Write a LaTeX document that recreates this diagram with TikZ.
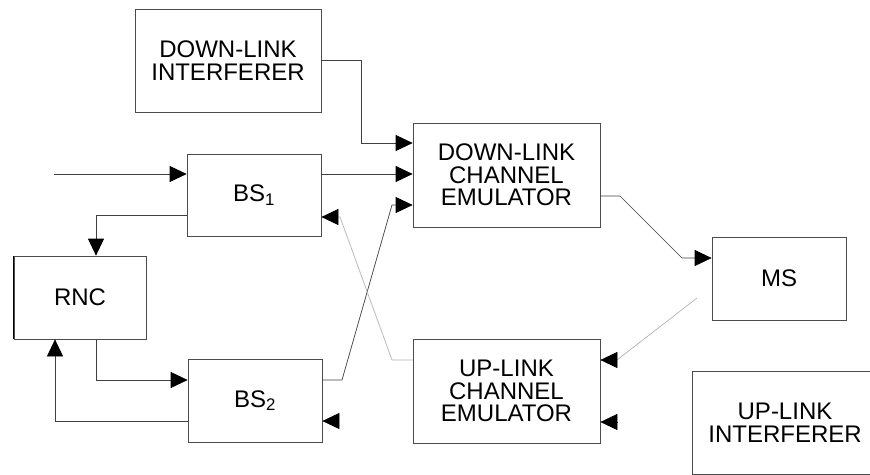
\documentclass[tikz,border=0pt]{standalone}
\usepackage{fontspec}
\setmainfont{Liberation Sans}
\usetikzlibrary{arrows.meta}

\begin{document}
\begin{tikzpicture}[x=1pt,y=-1pt,
  blk/.style={draw=black!70,line width=0.7pt,inner sep=0pt,align=center,
    font=\fontsize{24}{22.5}\selectfont},
  link/.style={draw=black!75,line width=0.7pt,
    -{Triangle[length=17pt,width=16pt,color=black]}},
  faint/.style={link,draw=black!30}]
\useasboundingbox (0,0) rectangle (870,474);
\clip (0,0) rectangle (870,474);

% blocks
\node[blk,minimum width=186pt,minimum height=103pt] (dli)  at (228,60.5)  {DOWN-LINK\\INTERFERER};
\node[blk,minimum width=187pt,minimum height=104pt] (dlce) at (506.5,175) {DOWN-LINK\\CHANNEL\\EMULATOR};
\node[blk,minimum width=134pt,minimum height=82pt]  (bs1)  at (254,195)   {BS\textsubscript{1}};
\node[blk,minimum width=132pt,minimum height=83pt]  (rnc)  at (80,297.5)  {RNC};
\node[blk,minimum width=134pt,minimum height=83pt]  (bs2)  at (255,400.5) {BS\textsubscript{2}};
\node[blk,minimum width=187pt,minimum height=104pt] (ulce) at (506.5,391) {UP-LINK\\CHANNEL\\EMULATOR};
\node[blk,minimum width=134pt,minimum height=83pt]  (ms)   at (779,278.5) {MS};
\node[blk,minimum width=186pt,minimum height=103pt] (uli)  at (785,422.5) {UP-LINK\\INTERFERER};
\draw[line width=1.3pt] (rnc.north west) -- (rnc.south west);

% free ends
\coordinate (src)   at (54,174);
\coordinate (msout) at (697,298);
\coordinate (ulin)  at (617,422);
\coordinate (bsin)  at (338,421);

% connectors
\draw[link] (dli.east) -| (361,143) -- (dlce.west |- 0,143);
\draw[link] (src) -- (bs1.west |- src);
\draw[link] (bs1.east |- src) -- (dlce.west |- src);
\draw[link] (bs2.east |- 0,380) -- (342,380) -- (392,205) -- (dlce.west |- 0,205);
\draw[faint] (ulce.west |- 0,360) -- (392,360) -- (340,217) -- (bs1.east |- 0,217);
\draw[link] (bs1.west |- 0,215) -| (rnc.north -| 96,0);
\draw[link] (rnc.south -| 96,0) |- (bs2.west |- 0,380);
\draw[link] (bs2.west |- 0,421) -| (rnc.south -| 55,0);
\draw[link] (dlce.east |- 0,196) -- (620,196) -- (682,258) -- (ms.west |- 0,258);
\draw[faint] (msout) -- (617,360) -- (ulce.east |- 0,360);
\draw[link] (ulin) -- (ulce.east |- ulin);
\draw[link] (bsin) -- (bs2.east |- bsin);
\end{tikzpicture}
\end{document}
